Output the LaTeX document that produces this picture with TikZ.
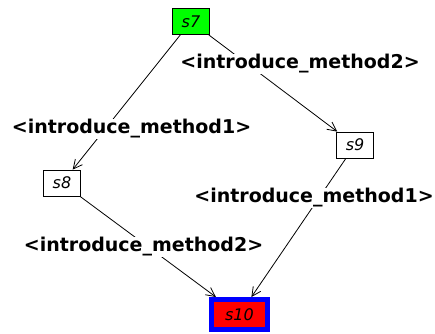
\documentclass[tikz,border=0pt]{standalone}
\usepackage{fontspec}
\setsansfont{DejaVu Sans}
\usetikzlibrary{arrows.meta}
\definecolor{startgreen}{RGB}{0,255,0}

\begin{document}
\begin{tikzpicture}[x=1pt, y=-1pt,
                    state/.style={draw, line width=0.8pt, minimum width=37pt, minimum height=26pt,
                                  inner sep=0pt, font=\sffamily\itshape\fontsize{16}{16}\selectfont},
                    move/.style={draw, line width=0.8pt, -{Straight Barb[length=9pt,width=9pt]}},
                    trans/.style={fill=white, inner sep=1pt,
                                  font=\sffamily\bfseries\fontsize{19}{19}\selectfont}]
  \useasboundingbox (0,0) rectangle (435,333);
  \node[state, fill=startgreen] (s7) at (191,21.5) {s7};
  \node[state] (s8) at (62,183) {s8};
  \node[state] (s9) at (355,145) {s9};
  \node[state, fill=red, draw=blue, line width=5pt, minimum width=56pt, minimum height=30pt]
    (s10) at (239.5,314.5) {s10};
  \draw[move] (s7) -- (s8);
  \draw[move] (s7) -- (s9);
  \draw[move] (s8) -- (s10);
  \draw[move] (s9) -- (s10);
  \node[trans] (m2a) at (300,64) {<introduce\_method2>};
  \node[trans] (m1a) at (131.5,129) {<introduce\_method1>};
  \node[trans] (m1b) at (314,198) {<introduce\_method1>};
  \node[trans] (m2b) at (143.5,247) {<introduce\_method2>};
\end{tikzpicture}
\end{document}
